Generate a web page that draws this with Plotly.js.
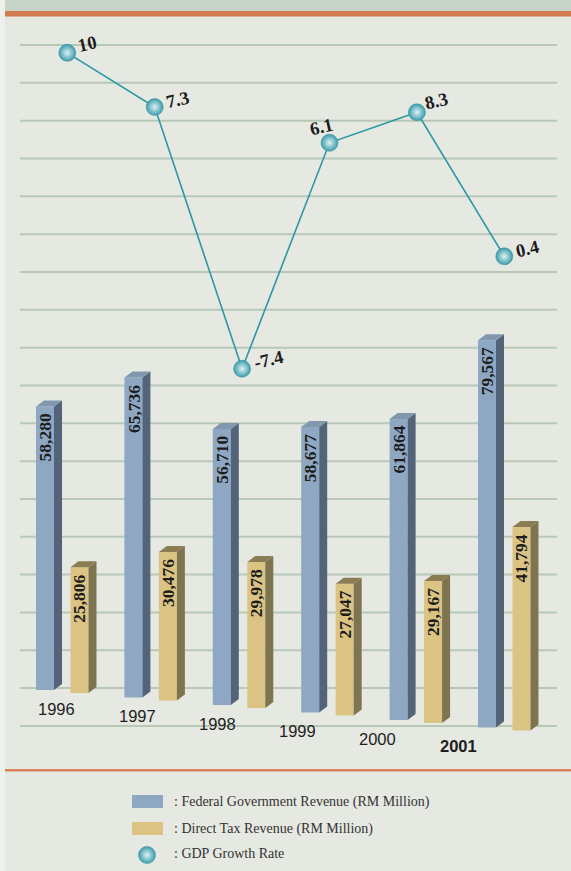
<!DOCTYPE html>
<html>
<head>
<meta charset="utf-8">
<script src="https://cdn.plot.ly/plotly-3.0.1.min.js"></script>
<style>
html,body{margin:0;padding:0;background:#e6e8e2;}
#chart{width:571px;height:871px;}
</style>
</head>
<body>
<div id="chart"></div>
<script>
// ---- data ----
const years = ['1996', '1997', '1998', '1999', '2000', '2001'];
const fedRevenue = [58280, 65736, 56710, 58677, 61864, 79567];
const directTax = [25806, 30476, 29978, 27047, 29167, 41794];
const gdpGrowth = [10, 7.3, -7.4, 6.1, 8.3, 0.4];
const seriesNames = [
  ': Federal Government Revenue (RM Million)',
  ': Direct Tax Revenue (RM Million)',
  ': GDP Growth Rate'
];

// ---- style / geometry constants ----
const W = 571, H = 871;
const PX_X = 88.4;            // px per category
const UNIT_PER_PX = 205.5;    // RM million per px
const GDP_PX = 17.29;         // px per GDP point
const TILT_PX = 7.5;          // perspective drop per category (px)
const barW = 18 / PX_X;
const groupOff = 0.195;
const depthX = 8 / PX_X;
const depthY = 6 * UNIT_PER_PX;
const tiltRev = TILT_PX * UNIT_PER_PX;
const tiltGdp = TILT_PX / GDP_PX;

const colFedFront = '#8ea8c3', colFedSide = '#536479', colFedTop = '#8197ae';
const colTaxFront = '#dbc383', colTaxSide = '#7f7450', colTaxTop = '#8a7c53';
const colLine = '#2a99a5';

const idx = years.map((_, i) => i);
const fedX = idx.map(i => i - groupOff);
const taxX = idx.map(i => i + groupOff);
const baseAt = x => -(x + groupOff) * tiltRev;
const fedBase = fedX.map(baseAt);
const taxBase = taxX.map(baseAt);

function faces(xs, bases, vals) {
  const sx = [], sy = [], tx = [], ty = [];
  xs.forEach((xc, i) => {
    const b = bases[i], t = b + vals[i];
    const xl = xc - barW / 2, xr = xc + barW / 2;
    sx.push(xr, xr + depthX, xr + depthX, xr, xr, null);
    sy.push(b, b + depthY, t + depthY, t, b, null);
    tx.push(xl, xl + depthX, xr + depthX, xr, xl, null);
    ty.push(t, t + depthY, t + depthY, t, t, null);
  });
  return {sx, sy, tx, ty};
}
const fedF = faces(fedX, fedBase, fedRevenue);
const taxF = faces(taxX, taxBase, directTax);

const fmt = v => v.toLocaleString('en-US');
const valFont = {family: 'Liberation Serif, Times New Roman, serif', size: 17.5, color: '#1c1c1c', weight: 'bold'};

const polyTrace = (x, y, c) => ({
  type: 'scatter', mode: 'lines', x, y, fill: 'toself', fillcolor: c,
  line: {width: 0, color: c}, hoverinfo: 'skip', showlegend: false, cliponaxis: false
});

const sphere = {size: 17, color: '#3a9cab', gradient: {type: 'radial', color: '#dff2f3'}, line: {width: 0.5, color: '#2f8d9a'}};

const traces = [
  {
    type: 'bar', name: seriesNames[0], x: fedX, y: fedRevenue, base: fedBase, width: barW,
    marker: {color: colFedFront, line: {width: 0}}, showlegend: false,
    customdata: fedRevenue.map(fmt), hovertemplate: '%{customdata}<extra></extra>'
  },
  {
    type: 'bar', name: seriesNames[1], x: taxX, y: directTax, base: taxBase, width: barW,
    marker: {color: colTaxFront, line: {width: 0}}, showlegend: false,
    customdata: directTax.map(fmt), hovertemplate: '%{customdata}<extra></extra>'
  },
  polyTrace(fedF.sx, fedF.sy, colFedSide),
  polyTrace(fedF.tx, fedF.ty, colFedTop),
  polyTrace(taxF.sx, taxF.sy, colTaxSide),
  polyTrace(taxF.tx, taxF.ty, colTaxTop),
  {
    type: 'scatter', mode: 'lines+markers', name: seriesNames[2],
    x: idx, y: gdpGrowth.map((g, i) => g - i * tiltGdp), customdata: gdpGrowth,
    xaxis: 'x2', yaxis: 'y2',
    line: {color: colLine, width: 1.6},
    marker: sphere,
    hovertemplate: '%{customdata}<extra></extra>', showlegend: false, cliponaxis: false
  },
  // legend sphere
  {
    type: 'scatter', mode: 'markers', x: [(147 - 67.3) / 87.4], y: [10 - (855 - 52.87) / GDP_PX],
    xaxis: 'x2', yaxis: 'y2', marker: sphere,
    hoverinfo: 'skip', showlegend: false, cliponaxis: false
  }
];

const px = x => x / W, py = y => 1 - y / H;
const shapes = [];
// top band
shapes.push({type: 'rect', xref: 'paper', yref: 'paper', x0: 0, x1: 1, y0: py(11), y1: 1, fillcolor: '#c9d4c8', line: {width: 0}, layer: 'below'});
shapes.push({type: 'rect', xref: 'paper', yref: 'paper', x0: px(5), x1: 1, y0: py(16.5), y1: py(11), fillcolor: '#d27b4e', line: {width: 0}, layer: 'below'});
// left light strip
shapes.push({type: 'rect', xref: 'paper', yref: 'paper', x0: 0, x1: px(5), y0: 0, y1: 1, fillcolor: '#eef0ec', line: {width: 0}, layer: 'below'});
// bottom orange rule
shapes.push({type: 'rect', xref: 'paper', yref: 'paper', x0: px(5), x1: 1, y0: py(771.5), y1: py(769), fillcolor: '#d6825a', line: {width: 0}, layer: 'below'});
// horizontal guide lines
for (let k = 0; k < 19; k++) {
  const y = 45 + k * 37.83;
  shapes.push({type: 'line', xref: 'paper', yref: 'paper', x0: px(20), x1: px(557), y0: py(y), y1: py(y), line: {color: '#b8c8b6', width: 2}, layer: 'below'});
}
// legend swatches
shapes.push({type: 'rect', xref: 'paper', yref: 'paper', x0: px(132), x1: px(163), y0: py(808), y1: py(795), fillcolor: colFedFront, line: {width: 0}});
shapes.push({type: 'rect', xref: 'paper', yref: 'paper', x0: px(132), x1: px(163), y0: py(835), y1: py(822), fillcolor: colTaxFront, line: {width: 0}});

const annotations = [];
// bar value labels (vertical, at top of the front face)
function barLabels(xs, bases, vals, gap) {
  xs.forEach((x, i) => {
    annotations.push({
      xref: 'x', yref: 'y', x: x, y: bases[i] + vals[i], yshift: -gap,
      text: fmt(vals[i]), textangle: -90, showarrow: false,
      xanchor: 'center', yanchor: 'top', font: valFont
    });
  });
}
barLabels(fedX, fedBase, fedRevenue, 5);
barLabels(taxX, taxBase, directTax, 5);
// year labels (perspective)
years.forEach((yr, i) => {
  annotations.push({
    xref: 'paper', yref: 'paper', x: px(57 + 80.2 * i), y: py(709 + 7.4 * i),
    text: yr, showarrow: false, xanchor: 'center', yanchor: 'middle',
    font: {family: 'Liberation Sans, Arial, sans-serif', size: 16.5, color: '#1e1e1e', weight: i === years.length - 1 ? 'bold' : 'normal'}
  });
});
// GDP labels
const gdpDx = [20, 22.5, 26, -8, 20, 23];
const gdpDy = [9, 7, 9, 15.5, 11, 7];
gdpGrowth.forEach((g, i) => {
  annotations.push({
    xref: 'x2', yref: 'y2', x: i, y: g - i * tiltGdp, xshift: gdpDx[i], yshift: gdpDy[i],
    text: String(g), showarrow: false, textangle: -13, xanchor: 'center', yanchor: 'middle',
    font: {family: 'Liberation Serif, Times New Roman, serif', size: 18.5, color: '#1c1c1c', weight: 'bold'}
  });
});
// legend text
[801.5, 828.5, 853.5].forEach((y, k) => {
  annotations.push({
    xref: 'paper', yref: 'paper', x: px(172), y: py(y), text: seriesNames[k],
    showarrow: false, xanchor: 'left', yanchor: 'middle',
    font: {family: 'Liberation Serif, Times New Roman, serif', size: 14, color: '#333333'}
  });
});

const layout = {
  width: W, height: H, autosize: false,
  margin: {l: 0, r: 0, t: 0, b: 0, pad: 0},
  paper_bgcolor: '#e6e8e2', plot_bgcolor: 'rgba(0,0,0,0)',
  barmode: 'overlay', showlegend: false,
  xaxis: {range: [-62.25 / PX_X, (W - 62.25) / PX_X], visible: false, fixedrange: true},
  xaxis2: {range: [-67.3 / 87.4, (W - 67.3) / 87.4], overlaying: 'x', visible: false, fixedrange: true},
  yaxis: {range: [-(H - 690) * UNIT_PER_PX, 690 * UNIT_PER_PX], visible: false, fixedrange: true},
  yaxis2: {range: [10 - (H - 52.87) / GDP_PX, 10 + 52.87 / GDP_PX], overlaying: 'y', visible: false, fixedrange: true},
  shapes, annotations
};

Plotly.newPlot('chart', traces, layout, {displayModeBar: false, staticPlot: true});
</script>
</body>
</html>
